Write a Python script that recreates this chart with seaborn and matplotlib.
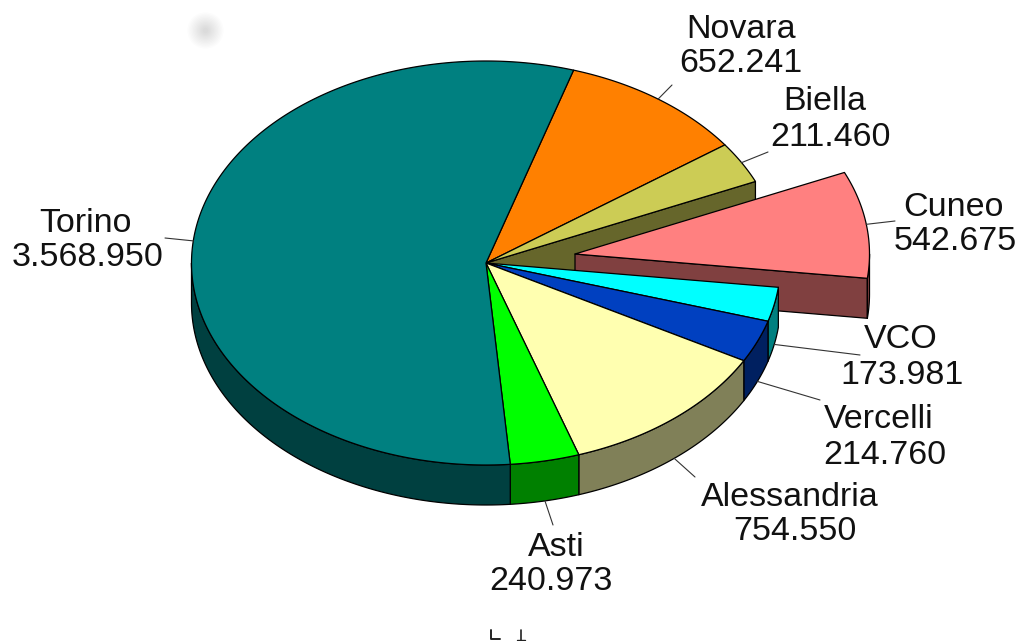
import numpy as np
import pandas as pd
import matplotlib
matplotlib.use("Agg")
import matplotlib.pyplot as plt
from matplotlib.patches import Polygon
import seaborn as sns

provinces = ["Novara", "Biella", "Cuneo", "VCO", "Vercelli", "Alessandria", "Asti", "Torino"]
population = [652241, 211460, 542675, 173981, 214760, 754550, 240973, 3568950]
value_labels = ["652.241", "211.460", "542.675", "173.981", "214.760", "754.550", "240.973", "3.568.950"]
top_colors = ["#FF8000", "#CCCC55", "#FF8080", "#00FFFF", "#0040C0", "#FFFFB0", "#00FF00", "#008080"]

# label layout (centre x of name, centre x of value, y of name, y of value, leader end)
name_x = [741, 825, 953, 901, 879, 790, 556, 85]
value_x = [741, 830, 955, 902, 885, 795, 551, 88]
name_y = [30, 102, 207, 340, 420, 497, 547, 223]
value_y = [64, 137, 241, 375, 455, 532, 582, 257]
leader_x = [672, 768, 895, 860, 820, 695, 553, 165]
leader_y = [85, 152, 221, 355, 400, 477, 525, 238]

START = 72.7
CX, CY, RX, RY, DEPTH = 486, 263, 294.5, 202, 40
EXPLODE = {"Cuneo": (89, -9)}

sns.set_theme(style="white")
plt.rcParams["font.family"] = ["Liberation Sans", "DejaVu Sans"]

df = pd.DataFrame({"name": provinces, "value": population, "label": value_labels})
df["span"] = df["value"] / df["value"].sum() * 360
df["t0"] = START - df["span"].cumsum().shift(fill_value=0)
df["t1"] = df["t0"] - df["span"]
palette = sns.color_palette(top_colors)
side = [tuple(c / 2 for c in col) for col in palette]

fig = plt.figure(figsize=(10.21, 6.41), dpi=100)
ax = fig.add_axes([0, 0, 1, 1])
ax.set_xlim(0, 1021)
ax.set_ylim(641, 0)
ax.axis("off")


def arc(a0, a1, ox=0, oy=0):
    t = np.radians(np.linspace(a0, a1, max(int(abs(a1 - a0) * 2), 2)))
    return np.column_stack([CX + ox + RX * np.cos(t), CY + oy - RY * np.sin(t)])


def poly(pts, color, z):
    ax.add_patch(Polygon(pts, closed=True, facecolor=color, edgecolor="black", linewidth=0.9,
                         joinstyle="round", zorder=z))


def wall(angle, color, z, ox=0, oy=0):
    p = arc(angle, angle, ox, oy)[0]
    c = np.array([CX + ox, CY + oy])
    d = np.array([0, DEPTH])
    poly([c, p, p + d, c + d], color, z)


def rim(a0, a1, color, z, ox=0, oy=0):
    a0, a1 = min(a0, 0), max(a1, -180)
    if a0 <= a1:
        return
    top = arc(a0, a1, ox, oy)
    bottom = top[::-1] + np.array([0, DEPTH])
    poly(np.vstack([top, bottom]), color, z)


def top(a0, a1, color, z, ox=0, oy=0):
    poly(np.vstack([[CX + ox, CY + oy], arc(a0, a1, ox, oy)]), color, z)


# hidden cut face of the pie behind the pulled-out slice
biella = df.index[df["name"] == "Biella"][0]
wall(df.loc[biella, "t1"], side[biella], 1)

# pulled-out slice
for i, row in df.iterrows():
    if row["name"] in EXPLODE:
        ox, oy = EXPLODE[row["name"]]
        wall(row["t1"], side[i], 2, ox, oy)
        rim(row["t0"], row["t1"], side[i], 2, ox, oy)
        top(row["t0"], row["t1"], palette[i], 3, ox, oy)

# rest of the pie
for i, row in df.iterrows():
    if row["name"] not in EXPLODE:
        rim(row["t0"], row["t1"], side[i], 4)
for i, row in df.iterrows():
    if row["name"] not in EXPLODE:
        top(row["t0"], row["t1"], palette[i], 5)

# labels and leader lines
for i, row in df.iterrows():
    ox, oy = EXPLODE.get(row["name"], (0, 0))
    mid = (row["t0"] + row["t1"]) / 2
    p = arc(mid, mid, ox, oy)[0]
    if np.sin(np.radians(mid)) < 0 and np.cos(np.radians(mid)) > 0:
        p = p + np.array([0, DEPTH])
    ax.plot([p[0], leader_x[i]], [p[1], leader_y[i]], color="#333333", lw=0.8, zorder=6)
    for x, y, s in ((name_x[i], name_y[i], row["name"]), (value_x[i], value_y[i], row["label"])):
        ax.text(x, y, s, ha="center", va="center", fontsize=24.5, color="#111111", zorder=7)

# scan remnants in the source image
for r in range(26, 2, -2):
    ax.scatter([205], [30], s=r ** 2, color="#808080", alpha=0.022, linewidths=0, zorder=0)
ax.plot([491, 491, 500], [630, 639, 639], color="#222222", lw=1.4, zorder=1)
ax.plot([521, 521], [630, 641], color="#222222", lw=1.2, zorder=1)
ax.plot([517, 525], [640, 640], color="#222222", lw=1.0, zorder=1)

fig.savefig("out.png", dpi=100, facecolor="white")
